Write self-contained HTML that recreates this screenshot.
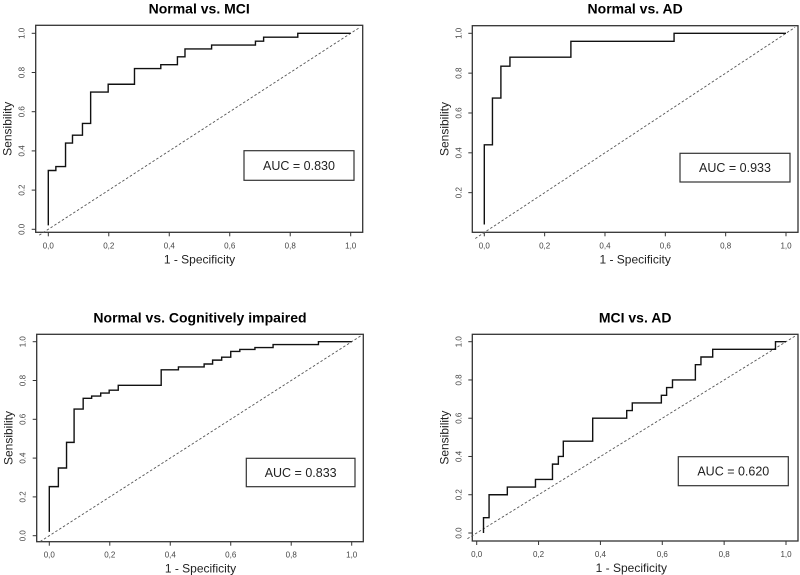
<!DOCTYPE html>
<html><head><meta charset="utf-8"><style>
body{margin:0;background:#fff}
svg{display:block;font-family:"Liberation Sans",Arial,sans-serif}
</style></head><body>
<svg id="c" width="800" height="575" viewBox="0 0 800 575"></svg>
<script>
const titles=["Normal vs. MCI","Normal vs. AD","Normal vs. Cognitively impaired","MCI vs. AD"];
const aucLabels=["AUC = 0.830","AUC = 0.933","AUC = 0.833","AUC = 0.620"];
const xTicks=[0,0.2,0.4,0.6,0.8,1.0];
const xTickLabels=["0,0","0,2","0,4","0,6","0,8","1,0"];
const yTicksFull=[0,0.2,0.4,0.6,0.8,1.0];
const yTickLabelsFull=["0.0","0.2","0.4","0.6","0.8","1.0"];
const yTicksAD=[0.2,0.4,0.6,0.8,1.0];
const yTickLabelsAD=["0.2","0.4","0.6","0.8","1.0"];
const fpr1=[0,0,0.025,0.057,0.08,0.113,0.14,0.198,0.285,0.372,0.427,0.452,0.54,0.685,0.712,0.825,1.0];
const tpr1=[0.02,0.30,0.32,0.44,0.48,0.54,0.70,0.74,0.82,0.84,0.88,0.92,0.94,0.96,0.98,1.0,1.0];
const fpr2=[0,0,0.027,0.055,0.085,0.287,0.629,1.0];
const tpr2=[0.04,0.44,0.675,0.835,0.88,0.96,1.0,1.0];
const fpr3=[0,0,0.03,0.057,0.082,0.112,0.14,0.17,0.198,0.228,0.37,0.427,0.512,0.54,0.57,0.6,0.63,0.68,0.74,0.89,1.0];
const tpr3=[0.02,0.253,0.349,0.481,0.653,0.708,0.72,0.735,0.75,0.775,0.855,0.87,0.885,0.905,0.92,0.95,0.96,0.97,0.985,1.0,1.0];
const fpr4=[0.022,0.022,0.04,0.099,0.19,0.245,0.264,0.28,0.375,0.485,0.503,0.597,0.614,0.633,0.707,0.725,0.763,0.966,1.0];
const tpr4=[0.0,0.08,0.20,0.24,0.28,0.36,0.40,0.48,0.60,0.64,0.68,0.72,0.76,0.80,0.88,0.92,0.96,1.0,1.0];

const panels=[
 {frame:[35.7,25.3,362.7,232.3],x0:48.3,x1:350.7,y0:229.3,y1:33.3,box:[244,150.7,354,180.3],fpr:fpr1,tpr:tpr1,yt:yTicksFull,ytl:yTickLabelsFull},
 {frame:[472.3,25.7,798,232.3],x0:484.3,x1:786,y0:232.5,y1:33.3,box:[680,153.3,790,182],fpr:fpr2,tpr:tpr2,yt:yTicksAD,ytl:yTickLabelsAD},
 {frame:[36.7,334.3,363.3,541.7],x0:49.3,x1:351.7,y0:535.7,y1:341.7,box:[246.3,458.3,355,486.7],fpr:fpr3,tpr:tpr3,yt:yTicksFull,ytl:yTickLabelsFull},
 {frame:[472.3,334.3,798,541],x0:476.7,x1:786,y0:533,y1:341.7,box:[678.3,456.7,788.3,485.7],fpr:fpr4,tpr:tpr4,yt:yTicksFull,ytl:yTickLabelsFull}
];
const svg=document.getElementById('c');
const NS='http://www.w3.org/2000/svg';
function mk(tag,attrs,parent){const e=document.createElementNS(NS,tag);for(const k in attrs)e.setAttribute(k,attrs[k]);(parent||svg).appendChild(e);return e;}
panels.forEach((p,i)=>{
 const g=mk('g',{});
 
 
 const sx=v=>p.x0+(p.x1-p.x0)*v, sy=v=>p.y0+(p.y1-p.y0)*v;
 const [fx0,fy0,fx1,fy1]=p.frame;
 const cx=(fx0+fx1)/2;
 const t=mk('text',{x:cx,y:fy0-12,'text-anchor':'middle','font-size':'14','font-weight':'bold',fill:'#000'},g);
 t.textContent=titles[i];
 
 
 const fr=mk('rect',{x:fx0,y:fy0,width:fx1-fx0,height:fy1-fy0,fill:'none',stroke:'#333','stroke-width':1.3},g);
 
 
 xTicks.forEach((v,k)=>{
  mk('line',{x1:sx(v),x2:sx(v),y1:fy1,y2:fy1+4,stroke:'#333','stroke-width':1},g);
  const tl=mk('text',{x:sx(v),y:fy1+16,'text-anchor':'middle','font-size':'8',fill:'#444'},g);
  tl.textContent=xTickLabels[k];
  
  
 });
 p.yt.forEach((v,k)=>{
  mk('line',{x1:fx0-4,x2:fx0,y1:sy(v),y2:sy(v),stroke:'#333','stroke-width':1},g);
  const tl=mk('text',{x:fx0-11,y:sy(v),'text-anchor':'middle','font-size':'8',fill:'#444',transform:`rotate(-90 ${fx0-11} ${sy(v)})`},g);
  tl.textContent=p.ytl[k];
  
  
 });
 const xl=mk('text',{x:(sx(0)+sx(1))/2,y:fy1+31,'text-anchor':'middle','font-size':'12',fill:'#222'},g);
 xl.textContent='1 - Specificity';
 
 
 const ymid=(fy0+fy1)/2;
 const yl=mk('text',{x:fx0-24,y:ymid,'text-anchor':'middle','font-size':'12',fill:'#222',transform:`rotate(-90 ${fx0-24} ${ymid})`},g);
 yl.textContent='Sensibility';
 
 
 const dg=mk('line',{x1:sx(-0.03),y1:sy(-0.03),x2:sx(1.03),y2:sy(1.03),stroke:'#555','stroke-width':0.9,'stroke-dasharray':'2.5,2'},g);
 
 
 let d=`M${sx(p.fpr[0])},${sy(p.tpr[0])}`;
 for(let j=1;j<p.fpr.length;j++){d+=` H${sx(p.fpr[j])} V${sy(p.tpr[j])}`;}
 const cv=mk('path',{d:d,fill:'none',stroke:'#111','stroke-width':1.4},g);
 
 
 const [bx0,by0,bx1,by1]=p.box;
 const br=mk('rect',{x:bx0,y:by0,width:bx1-bx0,height:by1-by0,fill:'#fff',stroke:'#333','stroke-width':1.2},g);
 
 
 const at=mk('text',{x:(bx0+bx1)/2,y:(by0+by1)/2+4.5,'text-anchor':'middle','font-size':'12.5',fill:'#222'},g);
 at.textContent=aucLabels[i];
 
 
});
</script>
</body></html>
